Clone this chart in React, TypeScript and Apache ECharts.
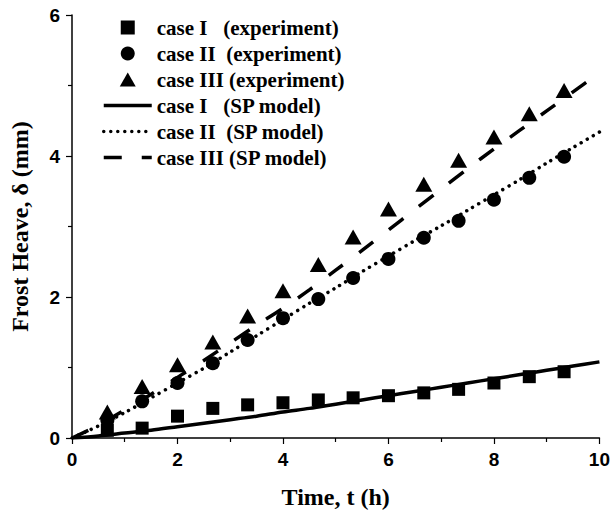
import React, { useEffect, useRef } from "react";
import * as echarts from "echarts";

const expTimes = [0.67, 1.33, 2, 2.67, 3.33, 4, 4.67, 5.33, 6, 6.67, 7.33, 8, 8.67, 9.33];
const expCaseI = [0.11, 0.14, 0.31, 0.42, 0.47, 0.5, 0.54, 0.57, 0.6, 0.64, 0.69, 0.78, 0.87, 0.94];
const expCaseII = [0.25, 0.52, 0.78, 1.06, 1.39, 1.7, 1.97, 2.27, 2.54, 2.84, 3.08, 3.38, 3.69, 3.99];
const expCaseIII = [0.37, 0.73, 1.04, 1.36, 1.73, 2.09, 2.46, 2.85, 3.25, 3.6, 3.94, 4.27, 4.6, 4.93];

const modelTimes = [0, 0.5, 1, 1.5, 2, 2.5, 3, 3.5, 4, 4.5, 5, 5.5, 6, 6.5, 7, 7.5, 8, 8.5, 9, 9.5, 10];
const modelCaseI = [0, 0.03, 0.07, 0.11, 0.16, 0.21, 0.26, 0.31, 0.37, 0.42, 0.48, 0.54, 0.6, 0.66, 0.72, 0.78, 0.84, 0.9, 0.96, 1.02, 1.08];
const modelCaseII = [0, 0.17, 0.36, 0.57, 0.78, 0.99, 1.22, 1.45, 1.68, 1.91, 2.13, 2.36, 2.58, 2.8, 3.01, 3.23, 3.45, 3.67, 3.9, 4.12, 4.34];
const modelCaseIII = [0, 0.18, 0.4, 0.62, 0.86, 1.1, 1.35, 1.6, 1.84, 2.1, 2.38, 2.66, 2.95, 3.24, 3.53, 3.82, 4.1, 4.37, 4.64, 4.91, 5.18];

const seriesNames = [
  "case I\u00a0\u00a0\u00a0(experiment)",
  "case II\u00a0\u00a0(experiment)",
  "case III (experiment)",
  "case I\u00a0\u00a0\u00a0(SP model)",
  "case II\u00a0\u00a0(SP model)",
  "case III (SP model)",
];

const xTicks = { min: 0, max: 10, interval: 2 };
const yTicks = { min: 0, max: 6, interval: 2 };

const SQUARE_ICON = "path://M0,0L1,0L1,1L0,1Z";
const TRIANGLE_ICON = "path://M0.5,0L1,0.875L0,0.875Z";

const solidStyle = { color: "#000", width: 3.5 };
const dottedStyle = { color: "#000", width: 3.5, type: [0.01, 7], cap: "round" };
const dashedStyle = { color: "#000", width: 3.5, type: [18, 20] };

const pairs = (xs: number[], ys: number[]) => xs.map((x, i) => [x, ys[i]]);

export default function App() {
  const ref = useRef<HTMLDivElement>(null);
  useEffect(() => {
    if (!ref.current) return;
    const chart = echarts.init(ref.current, undefined, { renderer: "svg" });
    const axisCommon = {
      axisLine: { show: true, lineStyle: { color: "#000", width: 1.5 } },
      axisTick: { show: true, inside: false, length: 6, lineStyle: { color: "#000", width: 1.2 } },
      minorTick: { show: true, splitNumber: 2, length: 4, lineStyle: { color: "#000", width: 1.2 } },
      splitLine: { show: false },
      axisLabel: {
        color: "#000",
        fontFamily: "Liberation Sans",
        fontWeight: "bold",
        fontSize: 19,
      },
      nameTextStyle: {
        color: "#000",
        fontFamily: "Liberation Serif",
        fontWeight: "bold",
        fontSize: 24,
      },
      nameLocation: "middle",
    };
    const hidden = { opacity: 0 };
    chart.setOption({
      animation: false,
      backgroundColor: "#fff",
      grid: { left: 71, right: 11, top: 15, bottom: 81, containLabel: false },
      legend: {
        orient: "vertical",
        left: 97,
        top: 12,
        itemWidth: 48,
        itemHeight: 14,
        itemGap: 5,
        symbolKeepAspect: true,
        textStyle: {
          color: "#000",
          fontFamily: "Liberation Serif",
          fontWeight: "bold",
          fontSize: 21,
          lineHeight: 20,
        },
        data: [
          { name: seriesNames[0], icon: SQUARE_ICON, itemStyle: { color: "#000", opacity: 1 } },
          { name: seriesNames[1], icon: "circle", itemStyle: { color: "#000", opacity: 1 } },
          { name: seriesNames[2], icon: TRIANGLE_ICON, itemStyle: { color: "#000", opacity: 1 } },
          { name: seriesNames[3], itemStyle: hidden, lineStyle: solidStyle },
          { name: seriesNames[4], itemStyle: hidden, lineStyle: dottedStyle },
          { name: seriesNames[5], itemStyle: hidden, lineStyle: dashedStyle },
        ],
      },
      xAxis: {
        type: "value",
        ...xTicks,
        ...axisCommon,
        axisLabel: { ...axisCommon.axisLabel, margin: 12 },
        name: "Time, t (h)",
        nameGap: 47,
      },
      yAxis: {
        type: "value",
        ...yTicks,
        ...axisCommon,
        axisLabel: { ...axisCommon.axisLabel, margin: 12 },
        name: "Frost Heave, \u03b4 (mm)",
        nameGap: 40,
      },
      series: [
        {
          name: seriesNames[0],
          type: "scatter",
          symbol: "rect",
          symbolSize: 13,
          itemStyle: { color: "#000", opacity: 1 },
          data: pairs(expTimes, expCaseI),
          z: 5,
        },
        {
          name: seriesNames[1],
          type: "scatter",
          symbol: "circle",
          symbolSize: 14,
          itemStyle: { color: "#000", opacity: 1 },
          data: pairs(expTimes, expCaseII),
          z: 5,
        },
        {
          name: seriesNames[2],
          type: "scatter",
          symbol: "triangle",
          symbolSize: [17, 15],
          itemStyle: { color: "#000", opacity: 1 },
          data: pairs(expTimes, expCaseIII),
          z: 5,
        },
        {
          name: seriesNames[3],
          type: "line",
          symbol: "none",
          smooth: 0.3,
          lineStyle: solidStyle,
          itemStyle: { color: "#000" },
          data: pairs(modelTimes, modelCaseI),
        },
        {
          name: seriesNames[4],
          type: "line",
          symbol: "none",
          smooth: 0.3,
          lineStyle: dottedStyle,
          itemStyle: { color: "#000" },
          data: pairs(modelTimes, modelCaseII),
        },
        {
          name: seriesNames[5],
          type: "line",
          symbol: "none",
          smooth: 0.3,
          lineStyle: dashedStyle,
          itemStyle: { color: "#000" },
          data: pairs(modelTimes, modelCaseIII),
        },
      ],
    });
    return () => chart.dispose();
  }, []);
  return <div ref={ref} style={{ width: 613, height: 519, position: "absolute", left: 0, top: 0 }} />;
}
